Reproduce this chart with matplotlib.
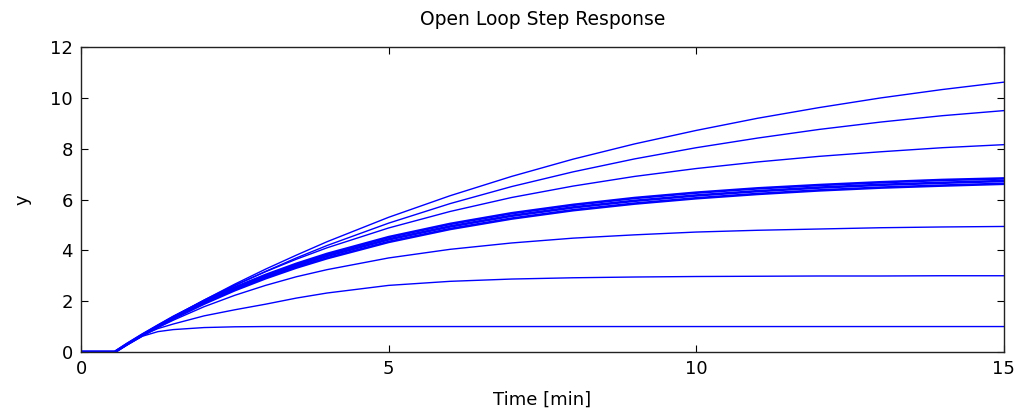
import matplotlib.pyplot as plt

# time grid [min]
t = [0, 0.55, 0.75, 1, 1.25, 1.5, 2, 2.5, 3, 3.5, 4, 5, 6, 7, 8, 9, 10, 11, 12, 13, 14, 15]

# step responses (top to bottom)
y_a = [0, 0, 0.30, 0.67, 1.03, 1.38, 2.04, 2.67, 3.26, 3.81, 4.34, 5.30, 6.15, 6.91, 7.59, 8.19, 8.72, 9.20, 9.62, 10.00, 10.33, 10.62]
y_b = [0, 0, 0.30, 0.67, 1.02, 1.36, 2.01, 2.61, 3.17, 3.70, 4.19, 5.07, 5.84, 6.51, 7.09, 7.60, 8.04, 8.42, 8.76, 9.05, 9.30, 9.50]
y_c = [0, 0, 0.31, 0.69, 1.05, 1.40, 2.04, 2.63, 3.16, 3.65, 4.10, 4.88, 5.53, 6.08, 6.53, 6.91, 7.22, 7.48, 7.70, 7.88, 8.04, 8.16]
# thick bundle (several nearly identical responses)
y_d_hi = [0, 0, 0.32, 0.69, 1.04, 1.38, 1.99, 2.54, 3.03, 3.47, 3.86, 4.52, 5.04, 5.46, 5.79, 6.06, 6.27, 6.44, 6.57, 6.68, 6.77, 6.83]
y_d_mid = [0, 0, 0.31, 0.68, 1.02, 1.35, 1.95, 2.49, 2.97, 3.40, 3.78, 4.43, 4.94, 5.36, 5.69, 5.95, 6.16, 6.33, 6.47, 6.58, 6.66, 6.73]
y_d_lo = [0, 0, 0.30, 0.66, 0.99, 1.31, 1.90, 2.43, 2.90, 3.32, 3.69, 4.33, 4.84, 5.25, 5.58, 5.84, 6.05, 6.22, 6.36, 6.47, 6.55, 6.62]
y_e = [0, 0, 0.29, 0.64, 0.96, 1.25, 1.78, 2.23, 2.62, 2.96, 3.24, 3.70, 4.04, 4.29, 4.48, 4.61, 4.72, 4.79, 4.84, 4.89, 4.92, 4.94]
y_f = [0, 0, 0.30, 0.66, 0.92, 1.10, 1.42, 1.66, 1.88, 2.12, 2.32, 2.62, 2.78, 2.87, 2.92, 2.95, 2.97, 2.98, 2.99, 2.99, 3.00, 3.00]
y_g = [0, 0, 0.28, 0.62, 0.80, 0.88, 0.96, 0.99, 1.00, 1.00, 1.00, 1.00, 1.00, 1.00, 1.00, 1.00, 1.00, 1.00, 1.00, 1.00, 1.00, 1.00]

fig = plt.figure(figsize=(10.19, 4.17), dpi=100)
ax = fig.add_axes([0.0795, 0.156, 0.9055, 0.731])

for y in [y_a, y_b, y_c, y_e, y_f, y_g]:
    ax.plot(t, y, color='#0000ff', linewidth=1.0)
for y in [y_d_hi, y_d_mid, y_d_lo]:
    ax.plot(t, y, color='#0000ff', linewidth=1.9)

ax.set_xlim(0, 15)
ax.set_ylim(0, 12)
ax.set_xticks([0, 5, 10, 15])
ax.set_yticks([0, 2, 4, 6, 8, 10, 12])
ax.tick_params(direction='in', top=True, right=True, labelsize=13, length=5, pad=6)
for s in ax.spines.values():
    s.set_linewidth(1.0)
    s.set_color('#222222')

ax.set_title('Open Loop Step Response', fontsize=13.5, pad=16)
ax.set_xlabel('Time [min]', fontsize=13, labelpad=9)
ax.set_ylabel('y', fontsize=13, labelpad=13)

fig.savefig('out.png', dpi=100)
